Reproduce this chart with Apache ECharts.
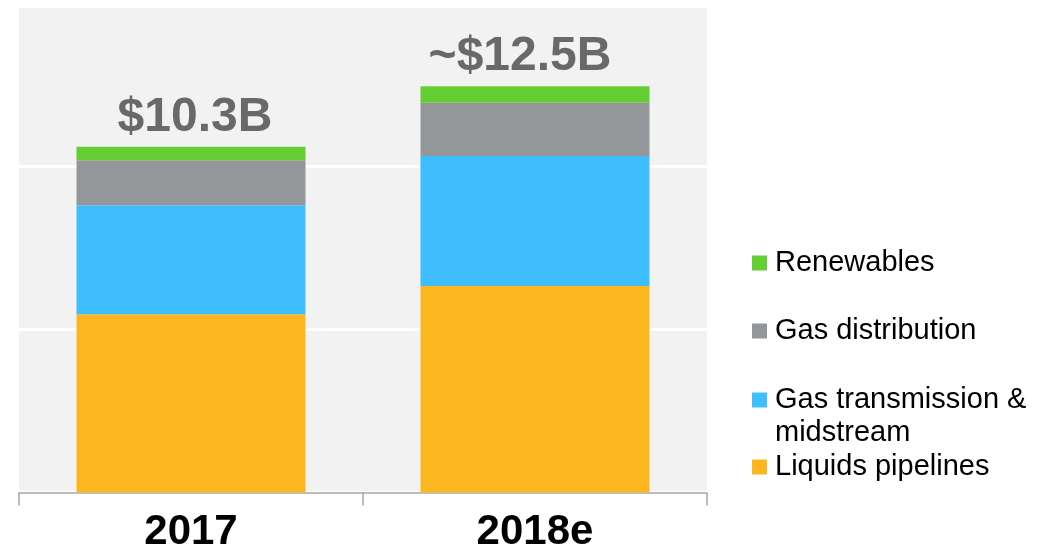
<!DOCTYPE html>
<html>
<head>
<meta charset="utf-8">
<script src="https://cdn.jsdelivr.net/npm/echarts@6/dist/echarts.min.js"></script>
<style>
html,body{margin:0;padding:0;background:#fff;}
#chart{width:1053px;height:554px;}
</style>
</head>
<body>
<div id="chart"></div>
<script>
const categories = ["2017", "2018e"];
const liquidsPipelines = [5.47, 6.33];
const gasTransmission = [3.34, 3.99];
const gasDistribution = [1.38, 1.63];
const renewables = [0.41, 0.51];
const totalLabels = ["$10.3B", "~$12.5B"];
const seriesNames = ["Liquids pipelines", "Gas transmission &\nmidstream", "Gas distribution", "Renewables"];
const yTicks = { min: 0, max: 14.92, interval: 5 };

const FONT = "'Liberation Sans', Arial, sans-serif";
const colors = ["#FDB71E", "#3EBEFD", "#94979A", "#65CE35"];
const values = [liquidsPipelines, gasTransmission, gasDistribution, renewables];
const labelOffsets = [[4, 0], [-15, 0]];

const series = values.map((arr, k) => {
  const s = {
    name: seriesNames[k],
    type: 'bar',
    stack: 'total',
    barWidth: 229,
    itemStyle: { color: colors[k] },
    data: arr.slice()
  };
  if (k === values.length - 1) {
    s.data = arr.map((v, i) => ({ value: v, label: { offset: labelOffsets[i] } }));
    s.label = {
      show: true,
      position: 'top',
      distance: 5,
      formatter: p => totalLabels[p.dataIndex],
      fontFamily: FONT,
      fontSize: 48,
      fontWeight: 'bold',
      color: '#696969'
    };
  }
  return s;
});

function mkLegend(name, top, extra) {
  return Object.assign({
    show: true,
    orient: 'vertical',
    left: 752,
    top: top,
    padding: 0,
    itemWidth: 15,
    itemHeight: 15,
    icon: 'rect',
    selectedMode: false,
    data: [name],
    textStyle: { fontFamily: FONT, fontSize: 29, color: '#000', lineHeight: 30, padding: [0, 0, 0, 3] }
  }, extra || {});
}

const option = {
  animation: false,
  backgroundColor: '#fff',
  grid: {
    left: 19, right: 346, top: 6, bottom: 61.5,
    show: true, backgroundColor: '#F2F2F2', borderWidth: 0
  },
  legend: [
    mkLegend(seriesNames[3], 248),
    mkLegend(seriesNames[2], 316),
    mkLegend(seriesNames[1], 350.5, {
      formatter: n => '\n' + n,
      textStyle: { fontFamily: FONT, fontSize: 29, color: '#000', lineHeight: 33, padding: [0, 0, 0, 3] }
    }),
    mkLegend(seriesNames[0], 452)
  ],
  xAxis: {
    type: 'category',
    data: categories,
    axisLine: { show: true, lineStyle: { color: '#A6A6A6', width: 1.5 } },
    axisTick: { show: true, length: 13, lineStyle: { color: '#A6A6A6', width: 1.5 } },
    axisLabel: { fontFamily: FONT, fontSize: 42, fontWeight: 'bold', color: '#000', margin: 19 }
  },
  yAxis: {
    type: 'value',
    min: yTicks.min, max: yTicks.max, interval: yTicks.interval,
    axisLine: { show: false },
    axisTick: { show: false },
    axisLabel: { show: false },
    splitLine: { show: true, lineStyle: { color: '#FFFFFF', width: 3 } }
  },
  series: series
};

const chart = echarts.init(document.getElementById('chart'), null, { renderer: 'canvas' });
chart.setOption(option);
</script>
</body>
</html>
